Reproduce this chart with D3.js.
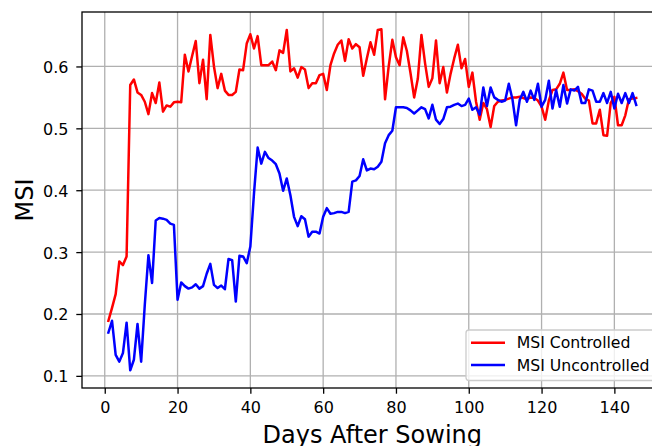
<!DOCTYPE html>
<html>
<head>
<meta charset="utf-8">
<script src="https://cdn.jsdelivr.net/npm/d3@7"></script>
<style>
  body { margin: 0; background: #fff; }
  svg { display: block; font-family: "DejaVu Sans", sans-serif; }
</style>
</head>
<body>
<svg id="chart" width="652" height="446"></svg>
<script>
// Days after sowing (1..146)
const days = d3.range(1, 147);

const msiControlled = [
  0.189, 0.210, 0.232, 0.285, 0.279, 0.293, 0.570, 0.579, 0.558, 0.554,
  0.543, 0.523, 0.557, 0.541, 0.574, 0.527, 0.537, 0.535, 0.542, 0.543,
  0.542, 0.619, 0.592, 0.617, 0.641, 0.573, 0.611, 0.547, 0.651, 0.600,
  0.565, 0.588, 0.561, 0.554, 0.554, 0.559, 0.595, 0.594, 0.637, 0.652,
  0.629, 0.649, 0.602, 0.602, 0.602, 0.608, 0.594, 0.626, 0.622, 0.659,
  0.592, 0.597, 0.582, 0.599, 0.595, 0.565, 0.573, 0.573, 0.586, 0.588,
  0.562, 0.602, 0.621, 0.635, 0.642, 0.609, 0.644, 0.629, 0.636, 0.631,
  0.585, 0.613, 0.639, 0.619, 0.659, 0.660, 0.547, 0.600, 0.643, 0.615,
  0.602, 0.647, 0.625, 0.589, 0.550, 0.580, 0.651, 0.605, 0.567, 0.581,
  0.642, 0.573, 0.599, 0.558, 0.588, 0.613, 0.635, 0.597, 0.612, 0.567,
  0.590, 0.543, 0.514, 0.541, 0.531, 0.502, 0.536, 0.543, 0.545, 0.546,
  0.548, 0.550, 0.550, 0.551, 0.549, 0.547, 0.550, 0.549, 0.545, 0.535,
  0.514, 0.545, 0.562, 0.563, 0.572, 0.590, 0.562, 0.562, 0.563, 0.560,
  0.556, 0.548, 0.545, 0.508, 0.508, 0.530, 0.489, 0.488, 0.541, 0.551,
  0.505, 0.505, 0.521, 0.547, 0.548, 0.549
];

const msiUncontrolled = [
  0.170, 0.189, 0.134, 0.123, 0.137, 0.186, 0.109, 0.126, 0.184, 0.123,
  0.215, 0.295, 0.250, 0.351, 0.355, 0.354, 0.352, 0.346, 0.344, 0.223,
  0.251, 0.245, 0.241, 0.243, 0.248, 0.241, 0.245, 0.265, 0.281, 0.247,
  0.242, 0.246, 0.240, 0.289, 0.287, 0.220, 0.294, 0.293, 0.282, 0.309,
  0.395, 0.469, 0.443, 0.462, 0.452, 0.448, 0.442, 0.427, 0.399, 0.419,
  0.392, 0.357, 0.342, 0.358, 0.353, 0.325, 0.333, 0.333, 0.330, 0.357,
  0.371, 0.362, 0.363, 0.365, 0.365, 0.363, 0.365, 0.414, 0.416, 0.423,
  0.450, 0.432, 0.435, 0.434, 0.438, 0.446, 0.476, 0.489, 0.496, 0.534,
  0.534, 0.534, 0.533, 0.529, 0.524, 0.529, 0.534, 0.531, 0.516, 0.538,
  0.514, 0.507, 0.515, 0.534, 0.535, 0.538, 0.540, 0.536, 0.538, 0.548,
  0.530, 0.534, 0.522, 0.566, 0.536, 0.566, 0.550, 0.546, 0.543, 0.545,
  0.572, 0.547, 0.505, 0.546, 0.559, 0.543, 0.561, 0.546, 0.572, 0.535,
  0.546, 0.577, 0.532, 0.562, 0.535, 0.570, 0.540, 0.563, 0.561, 0.567,
  0.541, 0.541, 0.563, 0.561, 0.543, 0.543, 0.557, 0.541, 0.559, 0.532,
  0.556, 0.541, 0.557, 0.541, 0.557, 0.538
];

const xTicks = [0, 20, 40, 60, 80, 100, 120, 140];
const yTicks = [0.1, 0.2, 0.3, 0.4, 0.5, 0.6];
const seriesNames = ["MSI Controlled", "MSI Uncontrolled"];
const seriesColors = ["#ff0000", "#0000ff"];
const xDomain = [-6.25, 153.25];
const yDomain = [0.0804, 0.688];

const svg = d3.select("#chart");
const W = 652, H = 446;
// Axes box; the right side runs past the figure edge and is cropped
const plot = { left: 82, top: 12, right: 662.6, bottom: 388 };

const x = d3.scaleLinear().domain(xDomain).range([plot.left, plot.right]);
const y = d3.scaleLinear().domain(yDomain).range([plot.bottom, plot.top]);

svg.append("rect").attr("width", W).attr("height", H).attr("fill", "#fff");

// Grid
const grid = svg.append("g").attr("stroke", "#b0b0b0").attr("stroke-width", 1.3);
grid.selectAll("line.gx").data(xTicks).join("line")
  .attr("x1", d => x(d)).attr("x2", d => x(d))
  .attr("y1", plot.top).attr("y2", plot.bottom);
grid.selectAll("line.gy").data(yTicks).join("line")
  .attr("x1", plot.left).attr("x2", plot.right)
  .attr("y1", d => y(d)).attr("y2", d => y(d));

// Series
svg.append("clipPath").attr("id", "clip").append("rect")
  .attr("x", plot.left).attr("y", plot.top)
  .attr("width", plot.right - plot.left).attr("height", plot.bottom - plot.top);

const line = d3.line().x((d, i) => x(days[i])).y(d => y(d));
[msiControlled, msiUncontrolled].forEach((vals, k) => {
  svg.append("path")
    .attr("clip-path", "url(#clip)")
    .attr("d", line(vals))
    .attr("fill", "none")
    .attr("stroke", seriesColors[k])
    .attr("stroke-width", 2.5)
    .attr("stroke-linejoin", "round")
    .attr("stroke-linecap", "square");
});

// Axes
const xAxis = d3.axisBottom(x).tickValues(xTicks).tickFormat(d3.format("d"))
  .tickSizeInner(5.7).tickSizeOuter(0).tickPadding(8);
const yAxis = d3.axisLeft(y).tickValues(yTicks).tickFormat(d3.format(".1f"))
  .tickSizeInner(5.7).tickSizeOuter(0).tickPadding(7.8);

const gx = svg.append("g").attr("transform", `translate(0,${plot.bottom})`).call(xAxis);
const gy = svg.append("g").attr("transform", `translate(${plot.left},0)`).call(yAxis);
[gx, gy].forEach(g => {
  g.select(".domain").remove();
  g.selectAll(".tick line").attr("stroke", "#000").attr("stroke-width", 1.3);
  g.selectAll(".tick text").attr("fill", "#000")
    .style("font-family", "'DejaVu Sans', sans-serif").style("font-size", "16px");
});
gy.selectAll(".tick text").attr("dy", "0.37em");

// Spines
const spines = svg.append("g").attr("stroke", "#000").attr("stroke-width", 1.3).attr("fill", "none");
spines.append("rect")
  .attr("x", plot.left).attr("y", plot.top)
  .attr("width", plot.right - plot.left).attr("height", plot.bottom - plot.top);

// Axis titles
svg.append("text")
  .attr("x", (plot.left + plot.right) / 2).attr("y", 442.5)
  .attr("text-anchor", "middle").attr("font-size", 24).attr("fill", "#000")
  .text("Days After Sowing");
svg.append("text")
  .attr("transform", `translate(32.5,${(plot.top + plot.bottom) / 2}) rotate(-90)`)
  .attr("text-anchor", "middle").attr("font-size", 24).attr("fill", "#000")
  .text("MSI");

// Legend
const lg = svg.append("g");
lg.append("rect")
  .attr("x", 466).attr("y", 330).attr("width", 191).attr("height", 50.5)
  .attr("rx", 3).attr("fill", "#fff").attr("fill-opacity", 0.8)
  .attr("stroke", "#cccccc").attr("stroke-width", 1.3);
seriesNames.forEach((name, k) => {
  const cy = 342.7 + k * 22.4;
  lg.append("line")
    .attr("x1", 471).attr("x2", 505).attr("y1", cy).attr("y2", cy)
    .attr("stroke", seriesColors[k]).attr("stroke-width", 2.5);
  lg.append("text")
    .attr("x", 516.7).attr("y", cy + 5.6)
    .attr("font-size", 15.7).attr("fill", "#000")
    .text(name);
});
</script>
</body>
</html>
